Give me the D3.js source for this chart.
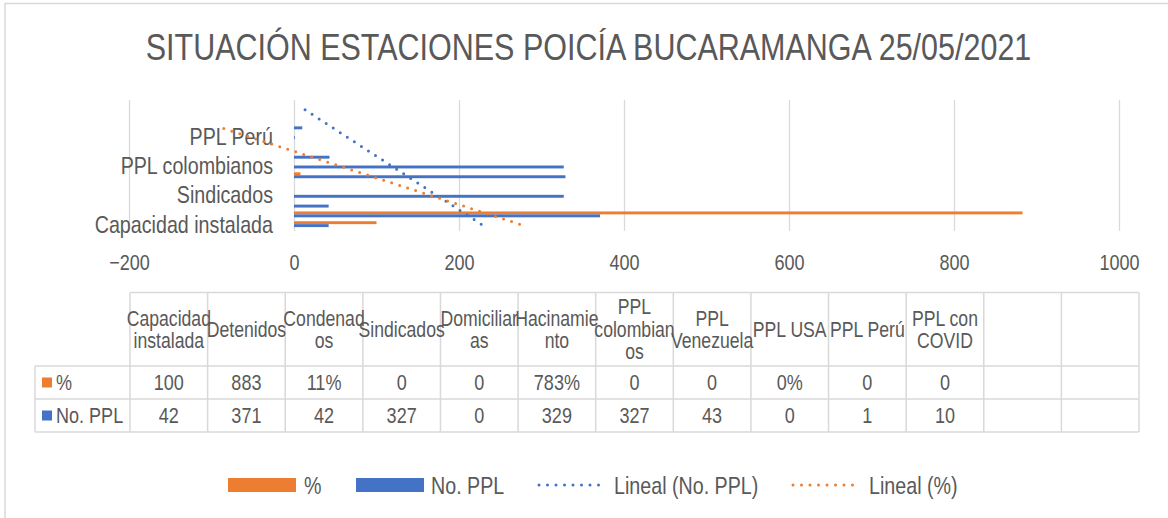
<!DOCTYPE html>
<html><head><meta charset="utf-8">
<script src="https://cdn.jsdelivr.net/npm/d3@7"></script>
<style>body{margin:0;background:#fff;} svg{display:block}</style>
</head><body>
<svg id="chart" width="1168" height="518"></svg>
<script>
const title = "SITUACIÓN ESTACIONES POICÍA BUCARAMANGA 25/05/2021";
const categories = ["Capacidad instalada","Detenidos","Condenados","Sindicados","Domiciliarias","Hacinamiento","PPL colombianos","PPL Venezuela","PPL USA","PPL Perú","PPL con COVID","",""];
const headerLines = [["Capacidad","instalada"],["Detenidos"],["Condenad","os"],["Sindicados"],["Domiciliar","as"],["Hacinamie","nto"],["PPL","colombian","os"],["PPL","Venezuela"],["PPL USA"],["PPL Perú"],["PPL con","COVID"],[],[]];
const seriesNames = ["%","No. PPL"];
const pctValues = [100,883,0.11,0,0,7.83,0,0,0,0,0];
const pctLabels = ["100","883","11%","0","0","783%","0","0","0%","0","0"];
const pplValues = [42,371,42,327,0,329,327,43,0,1,10,null,null];
const pplLabels = ["42","371","42","327","0","329","327","43","0","1","10","",""];
const xTicks = [-200,0,200,400,600,800,1000];
const axisLabelIdx = [0,3,6,9];
const legendNames = ["%","No. PPL","Lineal (No. PPL)","Lineal (%)"];

const ORANGE = "#ED7D31", BLUE = "#4472C4", GRID = "#D9D9D9", TXT = "#595959";

function hasFont(name){
  const c = document.createElement('canvas').getContext('2d');
  const s = "SITUACIÓN abcdefg 123 Wi";
  c.font = "40px monospace"; const a = c.measureText(s).width;
  c.font = `40px '${name}', monospace`; const b = c.measureText(s).width;
  return Math.abs(a-b) > 0.5;
}
const NARROW = hasFont("Liberation Sans Narrow");
const FONT = NARROW ? "'Liberation Sans Narrow'" : "'Liberation Sans', Arial, sans-serif";
const SX = NARROW ? 1 : 0.82;

const svg = d3.select("#chart");
svg.append("rect").attr("x",0).attr("y",0).attr("width",1168).attr("height",518).attr("fill","#fff");
svg.append("rect").attr("x",5).attr("y",3.5).attr("width",1200).attr("height",600)
  .attr("fill","none").attr("stroke",GRID).attr("stroke-width",1.5);

function label(parent, x, y, str, size, anchor="middle", fill=TXT){
  const g = parent.append("g").attr("transform", `translate(${x},${y}) scale(${SX},1)`);
  g.append("text").attr("font-family",FONT).attr("font-size",size)
    .attr("text-anchor",anchor).attr("dy","0.36em").attr("fill",fill).text(str);
  return g;
}

// Title
label(svg, 588.5, 47, title, 37.2);

// Scales
const x = d3.scaleLinear().domain([-200,1000]).range([129,1119]);
const idx = d3.range(categories.length);
const plotTop = 100, plotBot = 231;
const y = d3.scaleBand().domain(idx).range([plotBot, plotTop]).padding(0.4);
const yc = i => y(i) + y.bandwidth()/2;
const ySub = d3.scaleBand().domain(seriesNames).range([0, y.bandwidth()]);

// Gridlines + x axis
const xAxis = svg.append("g").attr("transform",`translate(0,${plotBot})`)
  .call(d3.axisBottom(x).tickValues(xTicks).tickSize(-(plotBot-plotTop)).tickFormat(d3.format("d")));
xAxis.select(".domain").remove();
xAxis.selectAll(".tick line").attr("stroke",GRID).attr("stroke-width",1.3);
xAxis.selectAll(".tick text").attr("y",31).attr("dy","0.36em")
  .attr("font-family",FONT).attr("font-size",22).attr("fill",TXT)
  .attr("transform",`scale(${SX},1)`);

// y axis labels
const yAxis = svg.append("g").attr("transform",`translate(273,0)`)
  .call(d3.axisLeft(y).tickSize(0).tickFormat(i => axisLabelIdx.includes(i) ? categories[i] : ""));
yAxis.select(".domain").remove();
yAxis.selectAll(".tick text").attr("x",0).attr("dy","0.36em")
  .attr("font-family",FONT).attr("font-size",24).attr("fill",TXT)
  .attr("transform",`scale(${SX},1)`);

// Bars
const barsData = [];
pctValues.forEach((v,i)=>{ if(v!=null) barsData.push({i, s:"%", v, c:ORANGE}); });
pplValues.forEach((v,i)=>{ if(v!=null) barsData.push({i, s:"No. PPL", v, c:BLUE}); });
svg.append("g").selectAll("rect").data(barsData).join("rect")
  .attr("x", d => Math.min(x(0), x(d.v)))
  .attr("width", d => Math.abs(x(d.v)-x(0)))
  .attr("y", d => y(d.i) + ySub(d.s))
  .attr("height", ySub.bandwidth())
  .attr("fill", d => d.c);

// Linear trendlines
function trend(vals){
  const pts = vals.map((v,i)=>({k:i+1, v})).filter(p => p.v != null);
  const mx = d3.mean(pts, p=>p.k), my = d3.mean(pts, p=>p.v);
  const b = d3.sum(pts, p=>(p.k-mx)*(p.v-my)) / d3.sum(pts, p=>(p.k-mx)**2);
  const a = my - b*mx;
  return vals.map((_,i)=>({i, v: a + b*(i+1)}));
}
const tline = d3.line().x(d => x(d.v)).y(d => yc(d.i));
[[pplValues, BLUE],[pctValues, ORANGE]].forEach(([vals,c])=>{
  const t = trend(vals);
  svg.append("path").datum([t[0], t[t.length-1]]).attr("d", tline)
    .attr("fill","none").attr("stroke",c).attr("stroke-width",3)
    .attr("stroke-linecap","round").attr("stroke-dasharray","0 8.4");
});

// Data table
const col = d3.scaleBand().domain(idx).range([130,1139]);
const tbl = svg.append("g").attr("stroke",GRID).attr("stroke-width",1.5).attr("fill","none");
const hTop = 292.5, r1 = 366, r2 = 399, r3 = 432, tLeft = 35;
tbl.append("line").attr("x1",col.range()[0]).attr("x2",col.range()[1]).attr("y1",hTop).attr("y2",hTop);
[r1,r2,r3].forEach(yy => tbl.append("line").attr("x1",tLeft).attr("x2",col.range()[1]).attr("y1",yy).attr("y2",yy));
tbl.append("line").attr("x1",tLeft).attr("x2",tLeft).attr("y1",r1).attr("y2",r3);
idx.concat([categories.length]).forEach(i => {
  const xx = i < categories.length ? col(i) : col.range()[1];
  tbl.append("line").attr("x1",xx).attr("x2",xx).attr("y1",hTop).attr("y2",r3);
});
const lh = 22.5, hc = (hTop + r1)/2;
headerLines.forEach((lines,i)=>{
  const cx = col(i) + col.bandwidth()/2;
  lines.forEach((ln,j)=>{
    label(svg, cx, hc + (j - (lines.length-1)/2)*lh, ln, 21.5);
  });
});
pctLabels.forEach((t,i)=> label(svg, col(i)+col.bandwidth()/2, (r1+r2)/2, t, 22));
pplLabels.forEach((t,i)=> { if(t) label(svg, col(i)+col.bandwidth()/2, (r2+r3)/2, t, 22); });
svg.append("rect").attr("x",42).attr("y",(r1+r2)/2-5).attr("width",10).attr("height",10).attr("fill",ORANGE);
label(svg, 56, (r1+r2)/2, seriesNames[0], 22, "start");
svg.append("rect").attr("x",42).attr("y",(r2+r3)/2-5).attr("width",10).attr("height",10).attr("fill",BLUE);
label(svg, 56, (r2+r3)/2, seriesNames[1], 22, "start");

// Legend
const ly = 485;
svg.append("rect").attr("x",228).attr("y",ly-7).attr("width",68).attr("height",14).attr("fill",ORANGE);
label(svg, 304, ly, legendNames[0], 24, "start");
svg.append("rect").attr("x",356).attr("y",ly-7).attr("width",68).attr("height",14).attr("fill",BLUE);
label(svg, 431, ly, legendNames[1], 24, "start");
svg.append("line").attr("x1",539).attr("x2",607).attr("y1",ly).attr("y2",ly)
  .attr("stroke",BLUE).attr("stroke-width",3).attr("stroke-linecap","round").attr("stroke-dasharray","0 8.5");
label(svg, 614, ly, legendNames[2], 24, "start");
svg.append("line").attr("x1",793).attr("x2",861).attr("y1",ly).attr("y2",ly)
  .attr("stroke",ORANGE).attr("stroke-width",3).attr("stroke-linecap","round").attr("stroke-dasharray","0 8.5");
label(svg, 869, ly, legendNames[3], 24, "start");
</script>
</body></html>
